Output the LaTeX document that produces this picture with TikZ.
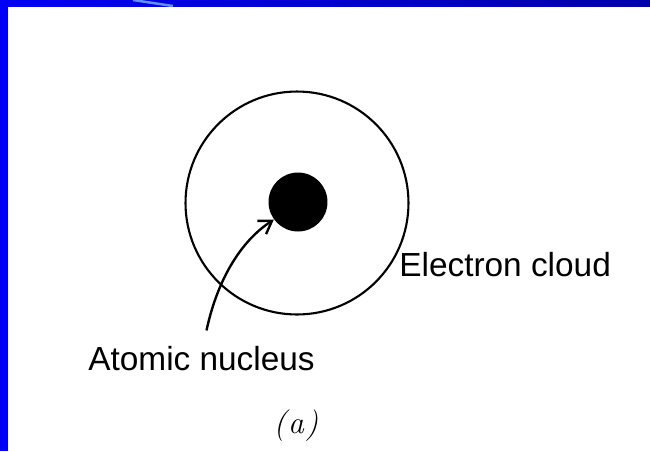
\documentclass[tikz,border=0pt]{standalone}
\usepackage{fontspec}
\setsansfont{Liberation Sans}
\usetikzlibrary{arrows.meta, positioning}
\definecolor{azul}{RGB}{0, 0, 245}
\definecolor{azulEscuro}{RGB}{0, 0, 170}
\definecolor{azulClaro}{RGB}{95, 145, 255}
\tikzset{
  rotulo/.style={font=\sffamily\fontsize{19}{22}\selectfont, inner sep=0pt},
  seta/.style={-{Straight Barb[length=7pt, width=9pt]}, line width=1.35pt},
}
\begin{document}
\begin{tikzpicture}[
    x=0.02cm,
    y=-0.02cm,
    nuvem/.style={
        circle,
        draw=black,
        line width=1.2pt,
        minimum size=4.46cm,
        inner sep=0pt
    },
    nucleo/.style={
        circle,
        fill=black,
        minimum size=1.18cm,
        inner sep=0pt
    }
]
\useasboundingbox (0,0) rectangle (650,451);

% =================================================
% MOLDURA
% =================================================

\fill[white] (0,0) rectangle (650,451);
\shade[left color=azul, right color=azulEscuro] (0,0) rectangle (650,6);
\fill[azul] (0,0) rectangle (7.5,451);
\draw[azulClaro, line width=1.4pt] (133,0) -- (173,6);

% =================================================
% ATOMO
% =================================================

\node[nuvem] (nuvem) at (297,203) {};
\node[nucleo] (nucleo) at (298,202) {};

% Rotulos
\node[rotulo, anchor=base west] (eletron) at (399,276) {Electron cloud};
\node[rotulo, anchor=base west] (atomo) at (88,370) {Atomic nucleus};

\node[
    font=\fontsize{18}{21}\selectfont\itshape
] (legenda) at (296,426)
{(\kern1pt a\kern1pt)};

% Seta para o nucleo
\draw[seta] ([xshift=0.1cm, yshift=0.3cm]atomo.north)
    .. controls (215,290) and (235,245) .. (nucleo.216);

\end{tikzpicture}
\end{document}
